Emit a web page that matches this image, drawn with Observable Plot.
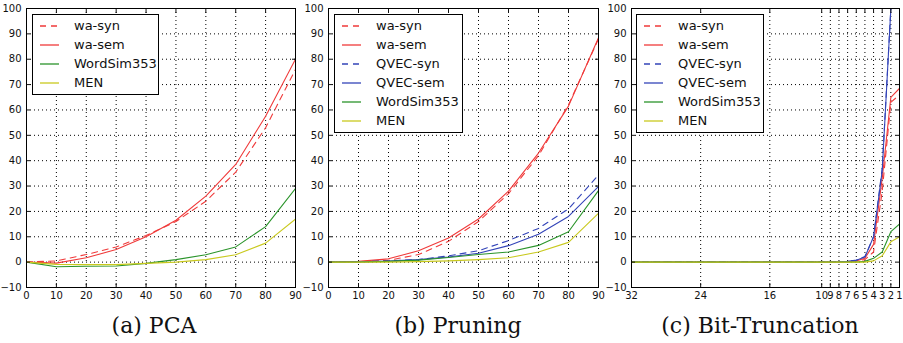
<!DOCTYPE html>
<html><head><meta charset="utf-8">
<script src="https://cdn.jsdelivr.net/npm/d3@7"></script>
<script src="https://cdn.jsdelivr.net/npm/@observablehq/plot@0.6"></script>
<style>
body{margin:0;background:#fff;}
#c{position:relative;width:903px;height:343px;overflow:hidden;font-family:"DejaVu Sans";}
.panel{position:absolute;top:0;}
.panel svg{overflow:visible;}
.title{position:absolute;top:315px;font-family:"DejaVu Serif";font-size:22px;line-height:22px;white-space:nowrap;transform:translateX(-50%);color:#111;}
.legend{position:absolute;border:1px solid #000;background:#fff;box-sizing:border-box;}
.row{position:absolute;left:0;height:19px;display:flex;align-items:center;font-size:13px;color:#111;white-space:nowrap;}
.row svg{margin-left:7px;margin-right:15px;}
</style>
</head><body>
<div id="c"></div>
<script>
// ---------- data ----------
const pcaX = [0,10,20,30,40,50,60,70,80,90];
const pcaWaSyn = [0,0.5,3,6,10.5,16,24,35.5,53,76];
const pcaWaSem = [0,-0.4,1.7,5,10,16.5,26,38.5,57.5,80];
const pcaWordSim = [0,-1.8,-1.6,-1.5,-0.5,1,2.9,6,14,29];
const pcaMEN = [0,-0.9,-1,-1,-0.5,0,1,2.9,7.5,17];

const prX = [0,10,20,30,40,50,60,70,80,90];
const prWaSyn = [0,0.2,0.7,3,8.2,16,27,42,62,88];
const prWaSem = [0,0.3,1.3,4.5,9.5,17,28,43,61.5,88.5];
const prQvecSyn = [0,0.1,0.5,1,2.5,4.5,8.5,13.3,21,34.4];
const prQvecSem = [0,0.1,0.4,1,2,3.5,6.5,11,18,29.8];
const prWordSim = [0,0,0.3,0.8,1.8,3,4,6.6,12,28.2];
const prMEN = [0,0,0,0.2,0.5,1,1.7,4,7.8,19.3];

const btX = [32,24,16,10,9,8,7,6,5,4,3,2,1];
const btWaSyn = [0,0,0,0,0,0,0.2,0.5,1,4,28,63,66];
const btWaSem = [0,0,0,0,0,0,0.2,0.5,1.5,7,33,65,68.5];
const btQvecSyn = [0,0,0,0,0,0.1,0.3,0.8,2.2,10,37,100,130];
const btQvecSem = [0,0,0,0,0,0.1,0.3,0.7,2,10,36,100,130];
const btWordSim = [0,0,0,0,0,0,0,0,0.3,1.5,4,12,15];
const btMEN = [0,0,0,0,0,0,0,0,0,0.5,2.5,8,10];

const yTicks = [-10,0,10,20,30,40,50,60,70,80,90,100];
const linTicks = [0,10,20,30,40,50,60,70,80,90];
const btTicks = [32,24,16,10,9,8,7,6,5,4,3,2,1];

const titles = ["(a) PCA","(b) Pruning","(c) Bit-Truncation"];

// ---------- styles ----------
const RED="#f03a3a", BLUE="#3344b8", GREEN="#2a942a", YEL="#c9c91e";
const styleOf = {
  "wa-syn":{stroke:RED,dash:"6,5"},
  "wa-sem":{stroke:RED,dash:null},
  "QVEC-syn":{stroke:BLUE,dash:"6,5"},
  "QVEC-sem":{stroke:BLUE,dash:null},
  "WordSim353":{stroke:GREEN,dash:null},
  "MEN":{stroke:YEL,dash:null}
};

const panels = [
  {left:0,width:300,ml:26,mr:5,domain:[0,90],ticks:linTicks,x:pcaX,
   series:[["wa-syn",pcaWaSyn],["wa-sem",pcaWaSem],["WordSim353",pcaWordSim],["MEN",pcaMEN]],
   leg:{left:32,top:14,w:127,h:81},title:154},
  {left:300,width:302,ml:28,mr:4,domain:[0,90],ticks:linTicks,x:prX,
   series:[["wa-syn",prWaSyn],["wa-sem",prWaSem],["QVEC-syn",prQvecSyn],["QVEC-sem",prQvecSem],["WordSim353",prWordSim],["MEN",prMEN]],
   leg:{left:334,top:14,w:129,h:119},title:458},
  {left:600,width:303,ml:31,mr:4,domain:[32,1],ticks:btTicks,x:btX,
   series:[["wa-syn",btWaSyn],["wa-sem",btWaSem],["QVEC-syn",btQvecSyn],["QVEC-sem",btQvecSem],["WordSim353",btWordSim],["MEN",btMEN]],
   leg:{left:636,top:14,w:128,h:119},title:760}
];

const root = document.getElementById("c");
panels.forEach((p, pi) => {
  const marks = [
    Plot.ruleX(p.ticks, {stroke:"#000", strokeDasharray:"1,3", strokeWidth:1}),
    Plot.ruleY(yTicks, {stroke:"#000", strokeDasharray:"1,3", strokeWidth:1})
  ];
  for (const [name, vals] of p.series) {
    const st = styleOf[name];
    const data = p.x.map((x,i)=>({x, y:vals[i]}));
    marks.push(Plot.line(data, {x:"x", y:"y", stroke:st.stroke, strokeWidth:1.1, strokeDasharray:st.dash ?? undefined, clip:true}));
  }
  marks.push(
    Plot.axisX({anchor:"bottom", ticks:p.ticks, tickSize:-4, tickPadding:8, tickFormat:d3.format("d"), label:null, fill:"#111"}),
    Plot.axisX({anchor:"top", ticks:p.ticks, tickSize:-4, tickFormat:()=>"", label:null}),
    Plot.axisY({anchor:"left", ticks:yTicks, tickSize:-4, tickPadding:9, label:null, fill:"#111"}),
    Plot.axisY({anchor:"right", ticks:yTicks, tickSize:-4, tickFormat:()=>"", label:null}),
    Plot.frame({stroke:"#000", strokeWidth:1})
  );
  const svg = Plot.plot({
    width:p.width, height:305,
    marginLeft:p.ml, marginRight:p.mr, marginTop:8, marginBottom:18,
    style:{fontSize:"10px", fontFamily:"DejaVu Sans", color:"#111", background:"transparent", overflow:"visible"},
    x:{domain:p.domain},
    y:{domain:[-10,100]},
    marks
  });
  const div = document.createElement("div");
  div.className="panel"; div.style.left=p.left+"px";
  div.appendChild(svg);
  root.appendChild(div);

  // legend
  const lg = document.createElement("div");
  lg.className="legend";
  Object.assign(lg.style,{left:p.leg.left+"px",top:p.leg.top+"px",width:p.leg.w+"px",height:p.leg.h+"px"});
  p.series.forEach(([name],i)=>{
    const st = styleOf[name];
    const row = document.createElement("div");
    row.className="row"; row.style.top=(1+i*19)+"px";
    row.innerHTML = `<svg width="19" height="4"><line x1="0" x2="19" y1="2" y2="2" stroke="${st.stroke}" stroke-width="1.3" ${st.dash?`stroke-dasharray="${st.dash}"`:""}/></svg><span>${name}</span>`;
    lg.appendChild(row);
  });
  root.appendChild(lg);

  const t = document.createElement("div");
  t.className="title"; t.style.left=p.title+"px";
  t.textContent = titles[pi];
  root.appendChild(t);
});
</script>
</body></html>
